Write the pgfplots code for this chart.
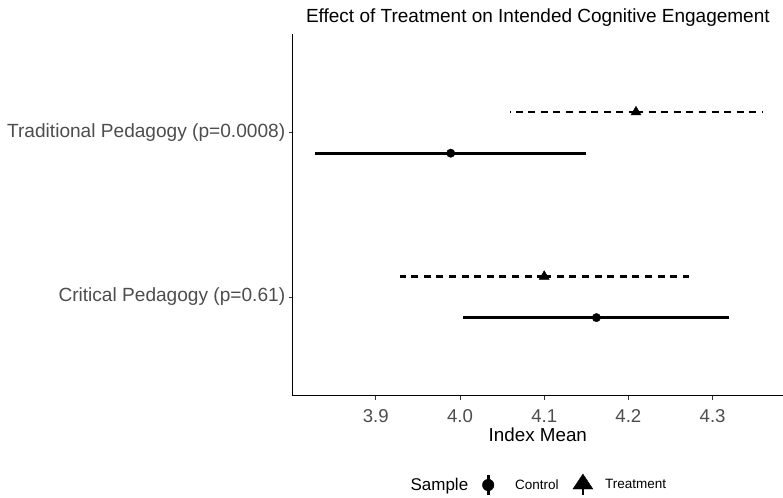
\documentclass[border=0pt]{standalone}
\usepackage{pgfplots}
\pgfplotsset{compat=1.18}
\usepackage{pgfplotstable}
\usepackage{fontspec}
\setmainfont{Liberation Sans}
\definecolor{ticklab}{HTML}{4D4D4D}
\definecolor{tickcol}{HTML}{333333}

\pgfplotstableread{
y lo mid hi
1.875 3.828 3.989 4.150
0.875 4.004 4.162 4.320
}\controltab
\pgfplotstableread{
y lo mid hi
2.125 4.059 4.209 4.359
1.125 3.929 4.100 4.272
}\treattab

\begin{document}
\begin{tikzpicture}
\path[use as bounding box] (-292.7bp,-102.3bp) rectangle (490.3bp,395.7bp);
\begin{axis}[
  scale only axis,
  width=490.3bp, height=361.7bp,
  xmin=3.8013, xmax=4.3836,
  ymin=0.4, ymax=2.6,
  axis x line*=bottom, axis y line*=left,
  axis line style={-, black, line width=1.1bp},
  xtick={3.9,4.0,4.1,4.2,4.3},
  xticklabels={3.9,4.0,4.1,4.2,4.3},
  ytick={1,2},
  yticklabels={Critical Pedagogy (p=0.61),Traditional Pedagogy (p=0.0008)},
  tick align=outside,
  major tick length=4bp,
  tick style={tickcol, line width=0.8bp},
  ticklabel style={text=ticklab},
  xticklabel style={anchor=base, yshift=-22.3bp, font=\fontsize{18.6bp}{22bp}\selectfont},
  yticklabel style={anchor=east, font=\fontsize{19.1bp}{22bp}\selectfont},
  xlabel={Index Mean},
  xlabel style={at={(axis description cs:0.5,0)}, anchor=base, yshift=-45.3bp, font=\fontsize{18.8bp}{22bp}\selectfont},
  title={Effect of Treatment on Intended Cognitive Engagement},
  title style={at={(axis description cs:0.5,1)}, anchor=base, yshift=6bp, font=\fontsize{19bp}{22bp}\selectfont},
  clip=false,
  legend style={at={(axis description cs:0.5,-0.247)}, anchor=center, xshift=-4.5bp, draw=none, fill=none,
    font=\fontsize{13.5bp}{16bp}\selectfont,
    /tikz/every odd column/.append style={column sep=10bp},
    /tikz/every even column/.append style={column sep=12bp}},
  legend columns=-1,
]
\addplot[black, only marks, mark=*, mark size=4.2bp, forget plot,
  error bars/.cd, x dir=both, x explicit, error mark=none,
  error bar style={black, line width=2.8bp}]
  table[x=mid, y=y, x error minus expr=\thisrow{mid}-\thisrow{lo}, x error plus expr=\thisrow{hi}-\thisrow{mid}] {\controltab};
\addplot[black, only marks, mark=triangle*, mark size=5.8bp, forget plot,
  error bars/.cd, x dir=both, x explicit, error mark=none,
  error bar style={black, line width=2.8bp, dash pattern=on 7bp off 5.6bp}]
  table[x=mid, y=y, x error minus expr=\thisrow{mid}-\thisrow{lo}, x error plus expr=\thisrow{hi}-\thisrow{mid}] {\treattab};

\addlegendimage{empty legend}
\addlegendentry{\fontsize{17bp}{20bp}\selectfont Sample}
\addlegendimage{legend image code/.code={
  \draw[black, line width=2.8bp] (0bp,-10bp) -- (0bp,10bp);
  \fill[black] (0bp,0bp) circle (5.8bp);}}
\addlegendentry{\hspace*{9bp}Control}
\addlegendimage{legend image code/.code={
  \draw[black, line width=2.8bp] (0bp,-10bp) -- (0bp,6bp);
  \fill[black] (-10bp,-4bp) -- (10bp,-4bp) -- (0bp,11bp) -- cycle;}}
\addlegendentry{Treatment}
\end{axis}
\end{tikzpicture}
\end{document}
